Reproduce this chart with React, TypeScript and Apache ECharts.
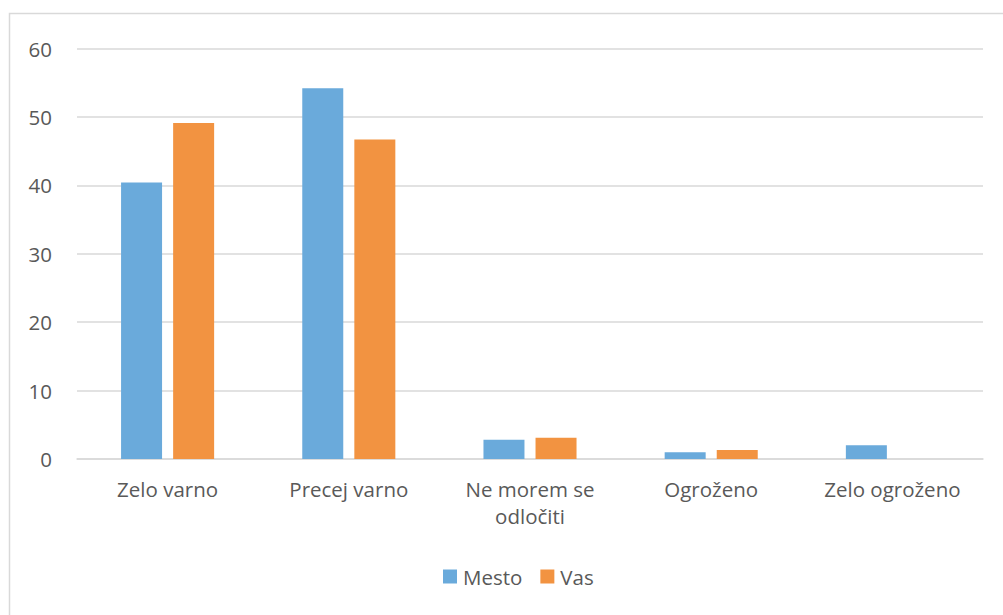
import React, { useEffect, useRef } from "react";
import * as echarts from "echarts";

const categories = ["Zelo varno", "Precej varno", "Ne morem se\nodločiti", "Ogroženo", "Zelo ogroženo"];
const mesto = [40.4, 54.2, 2.8, 1.0, 2.0];
const vas = [49.1, 46.7, 3.1, 1.3, 0];
const seriesNames = ["Mesto", "Vas"];
const yTicks = { min: 0, max: 60, interval: 10 };

const FONT = "'Open Sans', 'Noto Sans', sans-serif";

export default function App() {
  const ref = useRef<HTMLDivElement>(null);
  useEffect(() => {
    if (!ref.current) return;
    const chart = echarts.init(ref.current, null, { renderer: "svg" });
    chart.setOption({
      animation: false,
      backgroundColor: "#ffffff",
      textStyle: { fontFamily: FONT },
      graphic: [
        {
          type: "rect",
          shape: { x: 9.5, y: 13.5, width: 1010, height: 620 },
          style: { fill: "none", stroke: "#d9d9d9", lineWidth: 1.5 },
          silent: true,
        },
      ],
      grid: { left: 77, right: 20, top: 48.5, bottom: 156, containLabel: false },
      legend: {
        top: 561,
        left: 438,
        itemWidth: 14,
        itemHeight: 14,
        itemGap: 18,
        icon: "rect",
        textStyle: { color: "#595959", fontSize: 20.5, fontFamily: FONT, padding: [0, 0, 0, 1] },
        data: seriesNames,
      },
      xAxis: {
        type: "category",
        data: categories,
        axisLine: { lineStyle: { color: "#d9d9d9", width: 1.5 } },
        axisTick: { show: false },
        axisLabel: { color: "#595959", fontSize: 20.5, fontFamily: FONT, margin: 16, lineHeight: 27 },
      },
      yAxis: {
        type: "value",
        min: yTicks.min,
        max: yTicks.max,
        interval: yTicks.interval,
        axisLine: { show: false },
        axisTick: { show: false },
        splitLine: { lineStyle: { color: "#d9d9d9", width: 1.5 } },
        axisLabel: { color: "#595959", fontSize: 20.5, fontFamily: FONT, margin: 25 },
      },
      series: [
        {
          name: seriesNames[0],
          type: "bar",
          data: mesto,
          barWidth: 41,
          barGap: "27%",
          itemStyle: { color: "#6aaadb" },
        },
        {
          name: seriesNames[1],
          type: "bar",
          data: vas,
          barWidth: 41,
          itemStyle: { color: "#f29341" },
        },
      ],
    });
    return () => chart.dispose();
  }, []);
  return (
    <div
      ref={ref}
      style={{ position: "fixed", left: 0, top: 0, width: 1003, height: 615 }}
    />
  );
}
